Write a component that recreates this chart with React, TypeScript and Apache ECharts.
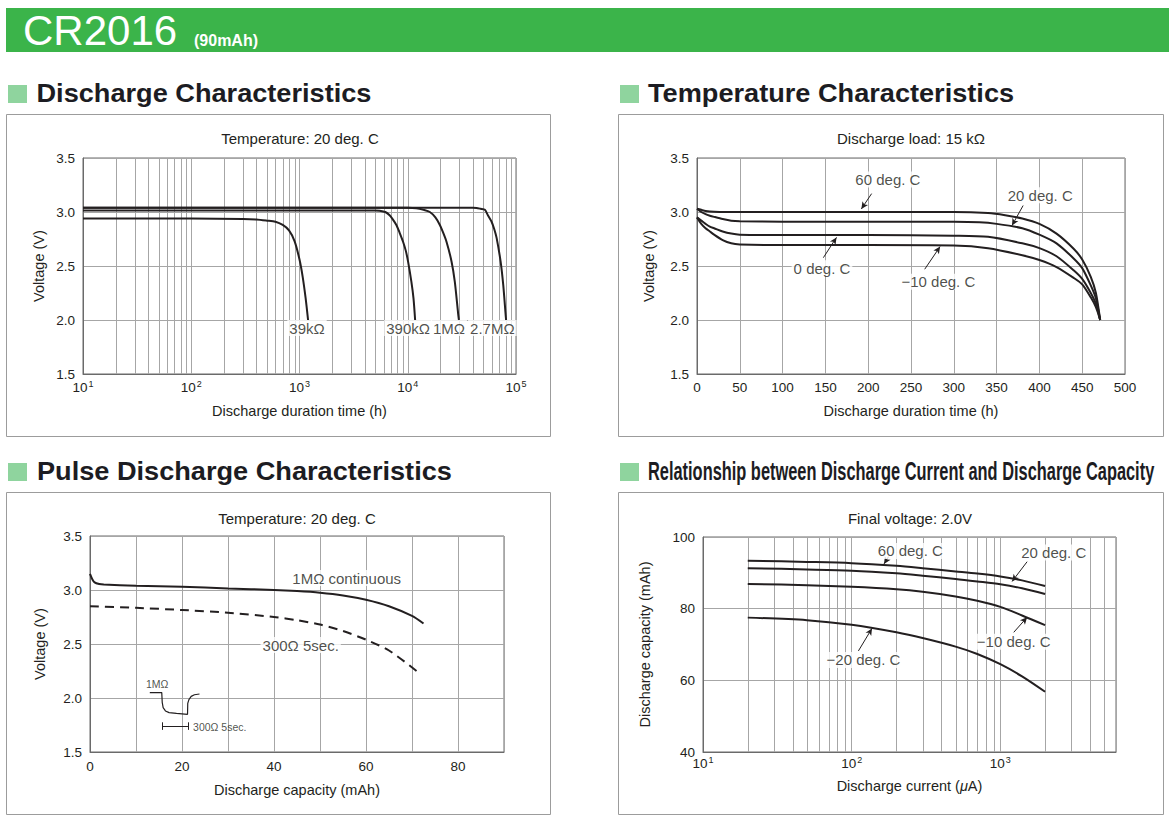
import React, { useEffect, useRef } from 'react';
import * as echarts from 'echarts';

const FONT = '"Liberation Sans", Arial, Helvetica, sans-serif';
const INK = '#231f20';
const GRIDC = '#a6a6a6';
const FRAME = '#6a6a6a';
const BOX = '#9c9c9c';
const GREEN = '#3bb44a';
const LIGHT_GREEN = '#8fd49e';

// ---------- Panel 1: Discharge Characteristics (log hours) ----------
const p1Load39kH = [10, 100, 300, 400, 500, 600, 700, 800, 900, 1000, 1070, 1140, 1200];
const p1Load39kV = [2.94, 2.94, 2.935, 2.93, 2.92, 2.91, 2.88, 2.83, 2.73, 2.56, 2.40, 2.20, 2.0];
const p1Load390kH = [10, 1000, 5000, 5500, 6200, 6800, 7300, 7850, 8400, 9050, 9600, 10070, 10800, 11300, 11700];
const p1Load390kV = [3.015, 3.015, 3.015, 3.012, 3.0, 2.97, 2.93, 2.88, 2.81, 2.725, 2.64, 2.54, 2.355, 2.2, 2.0];
const p1Load1MH = [10, 10000, 12000, 14000, 16000, 18000, 19800, 21000, 22800, 25400, 27200, 29200, 29700];
const p1Load1MV = [3.04, 3.04, 3.035, 3.02, 3.0, 2.95, 2.88, 2.82, 2.725, 2.54, 2.355, 2.06, 2.0];
const p1Load27MH = [10, 40000, 43200, 47000, 51600, 55000, 59500, 63000, 66200, 72100, 76300, 80200, 81000];
const p1Load27MV = [3.04, 3.04, 3.038, 3.03, 3.02, 2.97, 2.91, 2.84, 2.76, 2.54, 2.32, 2.05, 2.0];
const p1LabelText = ['39kΩ', '390kΩ', '1MΩ', '2.7MΩ'];
const p1LabelX = [1173, 10070, 24000, 60500];
const p1LabelY = [1.925, 1.925, 1.925, 1.925];

// ---------- Panel 2: Temperature Characteristics ----------
const p2T60H = [0, 5, 10, 20, 50, 100, 200, 300, 340, 360, 380, 400, 420, 440, 450, 460, 466, 471];
const p2T60V = [3.03, 3.02, 3.01, 3.003, 3.0, 3.0, 3.0, 3.0, 2.99, 2.97, 2.94, 2.89, 2.80, 2.66, 2.56, 2.40, 2.25, 2.0];
const p2T20H = [0, 5, 10, 15, 20, 30, 40, 50, 100, 200, 300, 330, 350, 380, 400, 420, 440, 450, 460, 466, 471];
const p2T20V = [3.03, 3.0, 2.98, 2.966, 2.955, 2.935, 2.92, 2.915, 2.91, 2.91, 2.91, 2.905, 2.89, 2.85, 2.79, 2.71, 2.57, 2.48, 2.32, 2.2, 2.0];
const p2T0H = [0, 5, 10, 15, 20, 30, 40, 50, 100, 200, 300, 340, 380, 400, 420, 440, 450, 460, 466, 471];
const p2T0V = [2.95, 2.92, 2.89, 2.864, 2.85, 2.82, 2.80, 2.79, 2.787, 2.787, 2.78, 2.77, 2.71, 2.665, 2.59, 2.46, 2.38, 2.25, 2.15, 2.0];
const p2Tm10H = [0, 5, 10, 15, 20, 30, 40, 50, 100, 200, 300, 340, 380, 400, 420, 440, 450, 460, 466, 471];
const p2Tm10V = [2.95, 2.89, 2.85, 2.82, 2.79, 2.74, 2.71, 2.70, 2.694, 2.694, 2.69, 2.665, 2.60, 2.555, 2.49, 2.39, 2.33, 2.21, 2.12, 2.0];
const p2LabelText = ['60 deg. C', '20 deg. C', '0 deg. C', '\u221210 deg. C'];
const p2LabelX = [223, 401, 146, 282];
const p2LabelY = [3.30, 3.155, 2.48, 2.355];
const p2LeaderFrom = [[204, 3.17], [381, 3.06], [147.6, 2.577], [266, 2.47]];
const p2LeaderTo = [[192, 3.028], [368, 2.875], [163, 2.765], [284, 2.68]];

// ---------- Panel 3: Pulse Discharge Characteristics ----------
const p3ContCap = [0, 0.5, 1, 2, 3, 10, 20, 30, 40, 45, 50, 55, 60, 65, 70, 72.5];
const p3ContV = [3.15, 3.10, 3.07, 3.055, 3.05, 3.04, 3.03, 3.015, 3.0, 2.99, 2.975, 2.95, 2.91, 2.85, 2.76, 2.69];
const p3PulseCap = [0, 10, 20, 30, 40, 45, 50, 55, 60, 65, 71];
const p3PulseV = [2.85, 2.835, 2.815, 2.79, 2.75, 2.72, 2.68, 2.62, 2.54, 2.44, 2.25];
const p3InsetX = [13.0, 15.6, 15.7, 15.9, 16.4, 17.2, 18.8, 21.2, 21.25, 21.5, 22.0, 22.7, 23.8];
const p3InsetY = [2.05, 2.05, 1.96, 1.91, 1.88, 1.865, 1.857, 1.849, 1.95, 1.985, 2.015, 2.03, 2.037];
const p3LabelText = ['1MΩ continuous', '300Ω 5sec.'];
const p3LabelX = [55.8, 45.8];
const p3LabelY = [3.11, 2.49];

// ---------- Panel 4: Discharge current vs capacity (log µA) ----------
const p4Current = [20, 50, 100, 200, 300, 500, 700, 1000, 1400, 2000];
const p4T60 = [93.4, 93.05, 92.7, 91.95, 91.3, 90.4, 89.8, 89.0, 87.9, 86.3];
const p4T20 = [91.3, 90.95, 90.6, 89.85, 89.2, 88.3, 87.6, 86.8, 85.7, 84.1];
const p4Tm10 = [86.9, 86.55, 86.1, 85.4, 84.7, 83.4, 82.2, 80.5, 78.1, 75.4];
const p4Tm20 = [77.5, 76.8, 75.5, 73.4, 71.8, 69.4, 67.35, 64.5, 61.1, 56.8];
const p4LabelText = ['60 deg. C', '20 deg. C', '\u221210 deg. C', '\u221220 deg. C'];
const p4LabelX = [248, 2287, 1231, 120];
const p4LabelY = [96.1, 95.7, 70.8, 65.7];
const p4LeaderFrom = [[177, 94.5], [1514, 93.1], [1231, 73.4], [111, 68.2]];
const p4LeaderTo = [[165, 92.5], [1200, 87.6], [1514, 77.6], [137, 74.5]];

const MINOR_MULTS = [2, 3, 4, 5, 6, 7, 8, 9];

function zip(xs: number[], ys: number[]) {
  return xs.map((x, i) => [x, ys[i]]);
}

function minorLines(firstDecade: number, lastDecade: number, maxVal: number) {
  const out: number[] = [];
  for (let d = firstDecade; d <= lastDecade; d++) {
    const base = Math.pow(10, d);
    for (const m of MINOR_MULTS) {
      const v = m * base;
      if (v < maxVal) out.push(v);
    }
  }
  return out;
}

function curve(data: number[][], gi: number, extra: any = {}) {
  return {
    type: 'line',
    xAxisIndex: gi,
    yAxisIndex: gi,
    data,
    showSymbol: false,
    symbol: 'none',
    smooth: 0.25,
    lineStyle: { color: INK, width: 2 },
    silent: true,
    z: 3,
    ...extra,
  };
}

function labelSeries(gi: number, texts: string[], xs: number[], ys: number[], fontSize: number, bg = true, from?: number[][], to?: number[][]) {
  const s: any = {
    type: 'scatter',
    xAxisIndex: gi,
    yAxisIndex: gi,
    symbolSize: 0,
    silent: true,
    z: 6,
    data: texts.map((t, i) => ({
      value: [xs[i], ys[i]],
      label: {
        show: true,
        position: 'inside',
        formatter: t,
        color: INK,
        fontSize,
        fontFamily: FONT,
        backgroundColor: bg ? '#ffffff' : 'transparent',
        padding: [1, 2, 0, 2],
      },
    })),
  };
  if (from && to) {
    s.markLine = {
      silent: true,
      symbol: ['none', 'arrow'],
      symbolSize: [5, 7],
      label: { show: false },
      lineStyle: { color: INK, width: 1, type: 'solid' },
      z: 5,
      data: from.map((f, i) => [{ coord: f }, { coord: to[i] }]),
    };
  }
  return s;
}

function vGridSeries(gi: number, xs: number[], yMin: number, yMax: number) {
  return {
    type: 'custom',
    xAxisIndex: gi,
    yAxisIndex: gi,
    silent: true,
    z: 1,
    data: xs.map((x) => [x, yMin, yMax]),
    encode: { x: 0, y: [1, 2] },
    renderItem: (params: any, api: any) => {
      const p1 = api.coord([api.value(0), api.value(1)]);
      const p2 = api.coord([api.value(0), api.value(2)]);
      return {
        type: 'line',
        shape: { x1: Math.round(p1[0]) + 0.5, y1: p1[1], x2: Math.round(p2[0]) + 0.5, y2: p2[1] },
        style: { stroke: GRIDC, lineWidth: 1 },
      };
    },
  };
}

const supRich = {
  b: { fontSize: 13.5, fontFamily: FONT, color: INK, lineHeight: 16 },
  s: { fontSize: 9, fontFamily: FONT, color: INK, verticalAlign: 'top', lineHeight: 10, padding: [0, 0, 0, 1] },
};

function logLabel(v: number) {
  const e = Math.log10(v);
  if (Math.abs(e - Math.round(e)) > 1e-6) return '';
  return `{b|10}{s|${Math.round(e)}}`;
}

function baseAxis(gi: number, extra: any) {
  return {
    gridIndex: gi,
    axisLine: { show: true, lineStyle: { color: FRAME, width: 1 } },
    axisTick: { show: false },
    splitLine: { show: true, lineStyle: { color: GRIDC, width: 1 } },
    nameLocation: 'middle',
    nameTextStyle: { color: INK, fontSize: 14.5, fontFamily: FONT },
    axisLabel: { color: INK, fontSize: 13.5, fontFamily: FONT },
    ...extra,
  };
}

function voltAxis(gi: number, nameGap: number) {
  return baseAxis(gi, {
    type: 'value',
    min: 1.5,
    max: 3.5,
    interval: 0.5,
    name: 'Voltage (V)',
    nameGap,
    axisLabel: { color: INK, fontSize: 13.5, fontFamily: FONT, margin: 8, formatter: (v: number) => v.toFixed(1) },
  });
}

function headerText(text: string, x: number, y: number, scaleX: number) {
  return {
    type: 'text',
    x,
    y,
    scaleX,
    style: { text, fill: '#1c1c22', font: `bold 25.5px ${FONT}`, align: 'left', verticalAlign: 'middle' },
  };
}

function titleText(text: string, x: number, y: number) {
  return {
    type: 'text',
    x,
    y,
    style: { text, fill: INK, font: `15px ${FONT}`, align: 'center', verticalAlign: 'middle' },
  };
}

export default function App() {
  const ref = useRef<HTMLDivElement>(null);

  useEffect(() => {
    if (!ref.current) return;
    const chart = echarts.init(ref.current, null, { renderer: 'svg' });

    const grids = [
      { left: 83, top: 158, width: 433, height: 216 },
      { left: 697, top: 158, width: 428, height: 216 },
      { left: 90, top: 536, width: 414, height: 216 },
      { left: 703, top: 537, width: 413, height: 215 },
    ].map((g) => ({ ...g, show: true, borderColor: FRAME, borderWidth: 1, backgroundColor: '#fff', outerBoundsMode: 'none' }));

    const xAxis = [
      baseAxis(0, {
        type: 'log',
        logBase: 10,
        min: 10,
        max: 100000,
        name: 'Discharge duration time (h)',
        nameGap: 29,
        axisLabel: { formatter: logLabel, rich: supRich, margin: 5 },
      }),
      baseAxis(1, {
        type: 'value',
        min: 0,
        max: 500,
        interval: 50,
        name: 'Discharge duration time (h)',
        nameGap: 29,
        axisLabel: { color: INK, fontSize: 13.5, fontFamily: FONT, margin: 6 },
      }),
      baseAxis(2, {
        type: 'value',
        min: 0,
        max: 90,
        interval: 10,
        name: 'Discharge capacity (mAh)',
        nameGap: 30,
        axisLabel: {
          color: INK,
          fontSize: 13.5,
          fontFamily: FONT,
          margin: 7,
          formatter: (v: number) => (v % 20 === 0 && v <= 80 ? String(v) : ''),
        },
      }),
      baseAxis(3, {
        type: 'log',
        logBase: 10,
        min: 10,
        max: 6000,
        name: 'Discharge current ({i|\u03bc}A)',
        nameGap: 26,
        nameTextStyle: {
          color: INK,
          fontSize: 14.5,
          fontFamily: FONT,
          rich: { i: { fontStyle: 'italic', fontSize: 14.5, fontFamily: FONT, color: INK } },
        },
        axisLabel: { formatter: logLabel, rich: supRich, margin: 3 },
      }),
    ];

    const yAxis = [
      voltAxis(0, 37),
      voltAxis(1, 41),
      voltAxis(2, 43),
      baseAxis(3, {
        type: 'value',
        min: 40,
        max: 100,
        interval: 20,
        name: 'Discharge capacity (mAh)',
        nameGap: 51,
        axisLabel: { color: INK, fontSize: 13.5, fontFamily: FONT, margin: 8 },
      }),
    ];

    const p4Curve = { smooth: 0.3 };

    const series: any[] = [
      vGridSeries(0, minorLines(1, 4, 100000), 1.5, 3.5),
      vGridSeries(3, minorLines(1, 3, 6000), 40, 100),

      curve(zip(p1Load39kH, p1Load39kV), 0),
      curve(zip(p1Load390kH, p1Load390kV), 0),
      curve(zip(p1Load1MH, p1Load1MV), 0),
      curve(zip(p1Load27MH, p1Load27MV), 0),
      labelSeries(0, p1LabelText, p1LabelX, p1LabelY, 15),

      curve(zip(p2T60H, p2T60V), 1),
      curve(zip(p2T20H, p2T20V), 1),
      curve(zip(p2T0H, p2T0V), 1),
      curve(zip(p2Tm10H, p2Tm10V), 1),
      labelSeries(1, p2LabelText, p2LabelX, p2LabelY, 15, true, p2LeaderFrom, p2LeaderTo),

      curve(zip(p3ContCap, p3ContV), 2),
      curve(zip(p3PulseCap, p3PulseV), 2, { lineStyle: { color: INK, width: 2, type: [9, 6] } }),
      curve(zip(p3InsetX, p3InsetY), 2, { smooth: false, lineStyle: { color: INK, width: 1.2 } }),
      labelSeries(2, p3LabelText, p3LabelX, p3LabelY, 15),
      {
        type: 'scatter',
        xAxisIndex: 2,
        yAxisIndex: 2,
        symbolSize: 0,
        silent: true,
        z: 6,
        data: [
          { value: [14.6, 2.13], label: { show: true, position: 'inside', formatter: '1MΩ', fontSize: 10.5, color: INK, fontFamily: FONT } },
          { value: [22.4, 1.735], label: { show: true, position: 'right', distance: 0, formatter: '300Ω 5sec.', fontSize: 10.5, color: INK, fontFamily: FONT } },
        ],
        markLine: {
          silent: true,
          symbol: ['none', 'none'],
          label: { show: false },
          lineStyle: { color: INK, width: 1, type: 'solid' },
          data: [
            [{ coord: [15.8, 1.74] }, { coord: [21.3, 1.74] }],
            [{ coord: [15.8, 1.775] }, { coord: [15.8, 1.705] }],
            [{ coord: [21.3, 1.775] }, { coord: [21.3, 1.705] }],
          ],
        },
      },

      curve(zip(p4Current, p4T60), 3, p4Curve),
      curve(zip(p4Current, p4T20), 3, p4Curve),
      curve(zip(p4Current, p4Tm10), 3, p4Curve),
      curve(zip(p4Current, p4Tm20), 3, p4Curve),
      labelSeries(3, p4LabelText, p4LabelX, p4LabelY, 15, true, p4LeaderFrom, p4LeaderTo),
    ];

    const graphic: any[] = [
      { type: 'rect', shape: { x: 6, y: 8, width: 1163, height: 44 }, style: { fill: GREEN } },
      { type: 'text', x: 23, y: 30, style: { text: 'CR2016', fill: '#ffffff', font: `42px ${FONT}`, align: 'left', verticalAlign: 'middle' } },
      { type: 'text', x: 194, y: 40, style: { text: '(90mAh)', fill: '#ffffff', font: `bold 16px ${FONT}`, align: 'left', verticalAlign: 'middle' } },

      { type: 'rect', shape: { x: 8, y: 85, width: 19, height: 18 }, style: { fill: LIGHT_GREEN } },
      headerText('Discharge Characteristics', 36.5, 93, 1.065),
      { type: 'rect', shape: { x: 620, y: 85, width: 19, height: 18 }, style: { fill: LIGHT_GREEN } },
      headerText('Temperature Characteristics', 648, 93, 1.065),
      { type: 'rect', shape: { x: 8, y: 463, width: 19, height: 18 }, style: { fill: LIGHT_GREEN } },
      headerText('Pulse Discharge Characteristics', 37, 471.5, 1.065),
      { type: 'rect', shape: { x: 620, y: 463, width: 19, height: 18 }, style: { fill: LIGHT_GREEN } },
      headerText('Relationship between Discharge Current and Discharge Capacity', 648, 471.5, 0.643),

      { type: 'rect', shape: { x: 6.5, y: 114.5, width: 544, height: 322 }, style: { fill: 'none', stroke: BOX, lineWidth: 1 } },
      { type: 'rect', shape: { x: 618.5, y: 114.5, width: 545, height: 322 }, style: { fill: 'none', stroke: BOX, lineWidth: 1 } },
      { type: 'rect', shape: { x: 6.5, y: 492.5, width: 544, height: 322 }, style: { fill: 'none', stroke: BOX, lineWidth: 1 } },
      { type: 'rect', shape: { x: 618.5, y: 492.5, width: 545, height: 322 }, style: { fill: 'none', stroke: BOX, lineWidth: 1 } },

      titleText('Temperature: 20 deg. C', 300, 138),
      titleText('Discharge load: 15 k\u03a9', 911, 138),
      titleText('Temperature: 20 deg. C', 297, 518),
      titleText('Final voltage: 2.0V', 910, 518),
    ];

    chart.setOption({
      animation: false,
      backgroundColor: '#ffffff',
      textStyle: { fontFamily: FONT },
      grid: grids,
      xAxis,
      yAxis,
      series,
      graphic,
    });

    return () => chart.dispose();
  }, []);

  return (
    <div
      ref={ref}
      style={{ position: 'absolute', left: 0, top: 0, width: 1169, height: 824, background: '#fff' }}
    />
  );
}
